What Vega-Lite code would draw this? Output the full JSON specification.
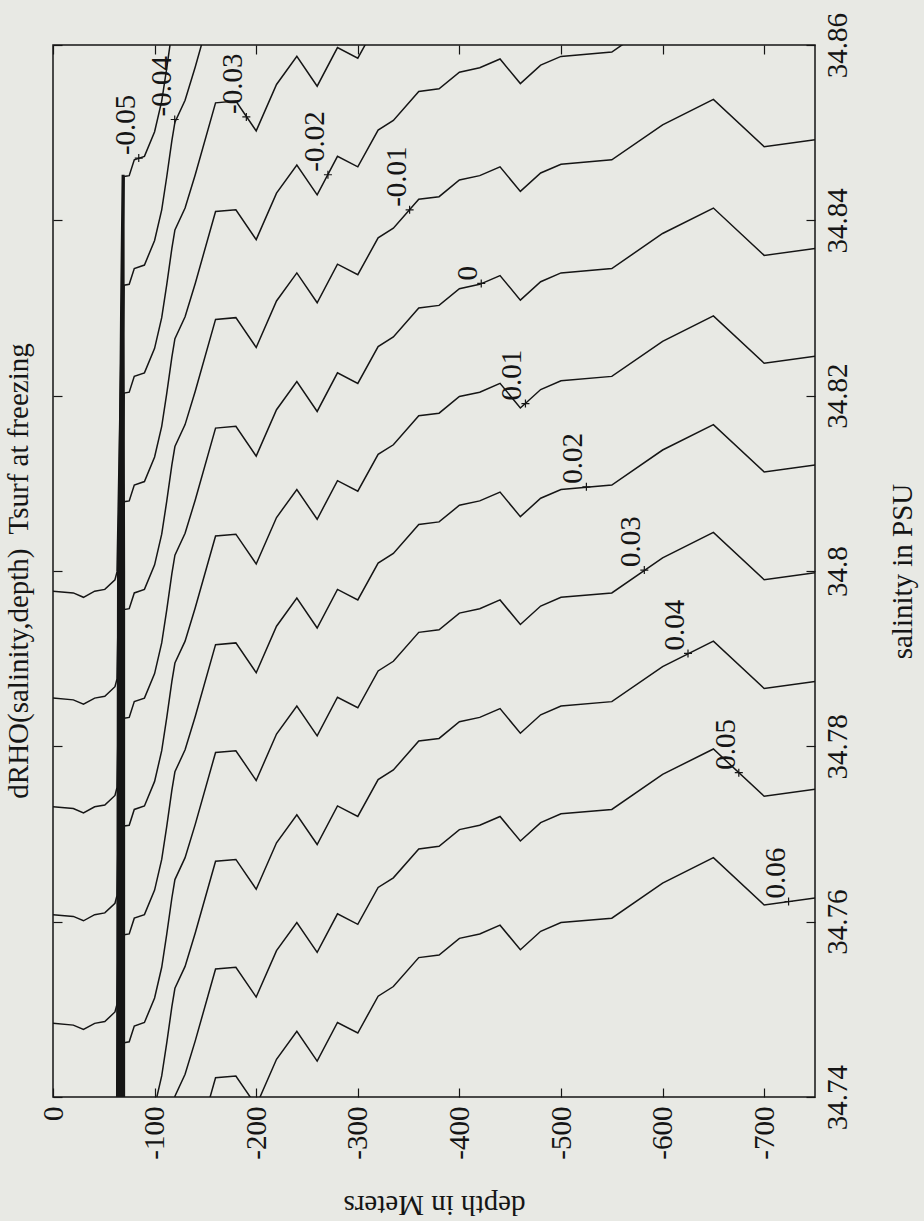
{
  "$schema": "https://vega.github.io/schema/vega-lite/v6.json",
  "width": 762,
  "height": 1052,
  "autosize": "none",
  "padding": {"left": 53, "top": 45, "right": 109, "bottom": 124},
  "background": "#e8e9e4",
  "title": {"text": "dRHO(salinity,depth)\u00a0 Tsurf at freezing", "orient": "left", "anchor": "middle", "offset": 5},
  "config": {
    "view": {"stroke": "#151515", "strokeWidth": 1.5},
    "font": "Liberation Serif",
    "axis": {"domain": false, "grid": false, "tickColor": "#151515", "tickSize": -9, "tickWidth": 1.2, "labelFont": "Liberation Serif", "labelFontSize": 29, "labelColor": "#151515", "titleFont": "Liberation Serif", "titleFontSize": 29, "titleFontWeight": "normal", "titleColor": "#151515"},
    "title": {"font": "Liberation Serif", "fontSize": 29, "fontWeight": "normal", "color": "#151515"}
  },
  "datasets": {
    "contours": [
      {"L":"-0.05","d":0,"s":34.7977},{"L":"-0.05","d":-20,"s":34.7975},{"L":"-0.05","d":-30,"s":34.797},{"L":"-0.05","d":-41,"s":34.7977},{"L":"-0.05","d":-51,"s":34.7979},{"L":"-0.05","d":-61,"s":34.799},{"L":"-0.05","d":-63,"s":34.7999},
      {"L":"-0.05","d":-70,"s":34.845},{"L":"-0.05","d":-75,"s":34.8451},{"L":"-0.05","d":-80,"s":34.8469},{"L":"-0.05","d":-90,"s":34.8473},{"L":"-0.05","d":-100,"s":34.8501},{"L":"-0.05","d":-107,"s":34.8536},{"L":"-0.05","d":-112,"s":34.8574},{"L":"-0.05","d":-117,"s":34.8615},

      {"L":"-0.04","d":0,"s":34.7855},{"L":"-0.04","d":-20,"s":34.7853},{"L":"-0.04","d":-30,"s":34.7848},{"L":"-0.04","d":-41,"s":34.7855},{"L":"-0.04","d":-51,"s":34.7857},{"L":"-0.04","d":-61,"s":34.7868},{"L":"-0.04","d":-63,"s":34.7877},
      {"L":"-0.04","d":-70,"s":34.8326},{"L":"-0.04","d":-75,"s":34.8327},{"L":"-0.04","d":-80,"s":34.8345},{"L":"-0.04","d":-90,"s":34.8349},{"L":"-0.04","d":-100,"s":34.8377},{"L":"-0.04","d":-107,"s":34.8412},{"L":"-0.04","d":-112,"s":34.845},{"L":"-0.04","d":-117,"s":34.8491},{"L":"-0.04","d":-120,"s":34.8512},{"L":"-0.04","d":-130,"s":34.8537},{"L":"-0.04","d":-140,"s":34.8575},{"L":"-0.04","d":-160,"s":34.8657},

      {"L":"-0.03","d":0,"s":34.7731},{"L":"-0.03","d":-20,"s":34.7729},{"L":"-0.03","d":-30,"s":34.7724},{"L":"-0.03","d":-41,"s":34.7731},{"L":"-0.03","d":-51,"s":34.7733},{"L":"-0.03","d":-61,"s":34.7744},{"L":"-0.03","d":-63,"s":34.7753},
      {"L":"-0.03","d":-70,"s":34.8203},{"L":"-0.03","d":-75,"s":34.8204},{"L":"-0.03","d":-80,"s":34.8222},{"L":"-0.03","d":-90,"s":34.8226},{"L":"-0.03","d":-100,"s":34.8254},{"L":"-0.03","d":-107,"s":34.8289},{"L":"-0.03","d":-112,"s":34.8327},{"L":"-0.03","d":-117,"s":34.8368},{"L":"-0.03","d":-120,"s":34.8389},{"L":"-0.03","d":-130,"s":34.8414},{"L":"-0.03","d":-140,"s":34.8452},{"L":"-0.03","d":-160,"s":34.8534},{"L":"-0.03","d":-180,"s":34.8536},{"L":"-0.03","d":-200,"s":34.8502},{"L":"-0.03","d":-220,"s":34.8555},{"L":"-0.03","d":-240,"s":34.8587},{"L":"-0.03","d":-260,"s":34.8553},{"L":"-0.03","d":-280,"s":34.8597},{"L":"-0.03","d":-300,"s":34.8585},{"L":"-0.03","d":-320,"s":34.8627},

      {"L":"-0.02","d":0,"s":34.7608},{"L":"-0.02","d":-20,"s":34.7606},{"L":"-0.02","d":-30,"s":34.7601},{"L":"-0.02","d":-41,"s":34.7608},{"L":"-0.02","d":-51,"s":34.761},{"L":"-0.02","d":-61,"s":34.7621},{"L":"-0.02","d":-63,"s":34.763},
      {"L":"-0.02","d":-70,"s":34.8079},{"L":"-0.02","d":-75,"s":34.808},{"L":"-0.02","d":-80,"s":34.8098},{"L":"-0.02","d":-90,"s":34.8102},{"L":"-0.02","d":-100,"s":34.813},{"L":"-0.02","d":-107,"s":34.8165},{"L":"-0.02","d":-112,"s":34.8203},{"L":"-0.02","d":-117,"s":34.8244},{"L":"-0.02","d":-120,"s":34.8265},{"L":"-0.02","d":-130,"s":34.829},{"L":"-0.02","d":-140,"s":34.8328},{"L":"-0.02","d":-160,"s":34.841},{"L":"-0.02","d":-180,"s":34.8412},{"L":"-0.02","d":-200,"s":34.8378},{"L":"-0.02","d":-220,"s":34.8431},{"L":"-0.02","d":-240,"s":34.8463},{"L":"-0.02","d":-260,"s":34.8429},{"L":"-0.02","d":-280,"s":34.8473},{"L":"-0.02","d":-300,"s":34.8461},{"L":"-0.02","d":-320,"s":34.8503},{"L":"-0.02","d":-335,"s":34.8514},{"L":"-0.02","d":-360,"s":34.8547},{"L":"-0.02","d":-380,"s":34.855},{"L":"-0.02","d":-400,"s":34.8569},{"L":"-0.02","d":-420,"s":34.8574},{"L":"-0.02","d":-440,"s":34.8584},{"L":"-0.02","d":-460,"s":34.8556},{"L":"-0.02","d":-480,"s":34.8577},{"L":"-0.02","d":-500,"s":34.8587},{"L":"-0.02","d":-550,"s":34.8592},{"L":"-0.02","d":-600,"s":34.8632},

      {"L":"-0.01","d":0,"s":34.7484},{"L":"-0.01","d":-20,"s":34.7482},{"L":"-0.01","d":-30,"s":34.7477},{"L":"-0.01","d":-41,"s":34.7484},{"L":"-0.01","d":-51,"s":34.7486},{"L":"-0.01","d":-61,"s":34.7497},{"L":"-0.01","d":-63,"s":34.7506},
      {"L":"-0.01","d":-70,"s":34.7956},{"L":"-0.01","d":-75,"s":34.7957},{"L":"-0.01","d":-80,"s":34.7975},{"L":"-0.01","d":-90,"s":34.7979},{"L":"-0.01","d":-100,"s":34.8007},{"L":"-0.01","d":-107,"s":34.8042},{"L":"-0.01","d":-112,"s":34.808},{"L":"-0.01","d":-117,"s":34.8121},{"L":"-0.01","d":-120,"s":34.8142},{"L":"-0.01","d":-130,"s":34.8167},{"L":"-0.01","d":-140,"s":34.8205},{"L":"-0.01","d":-160,"s":34.8287},{"L":"-0.01","d":-180,"s":34.8289},{"L":"-0.01","d":-200,"s":34.8255},{"L":"-0.01","d":-220,"s":34.8308},{"L":"-0.01","d":-240,"s":34.834},{"L":"-0.01","d":-260,"s":34.8306},{"L":"-0.01","d":-280,"s":34.835},{"L":"-0.01","d":-300,"s":34.8338},{"L":"-0.01","d":-320,"s":34.838},{"L":"-0.01","d":-335,"s":34.8391},{"L":"-0.01","d":-360,"s":34.8424},{"L":"-0.01","d":-380,"s":34.8427},{"L":"-0.01","d":-400,"s":34.8446},{"L":"-0.01","d":-420,"s":34.8451},{"L":"-0.01","d":-440,"s":34.8461},{"L":"-0.01","d":-460,"s":34.8433},{"L":"-0.01","d":-480,"s":34.8454},{"L":"-0.01","d":-500,"s":34.8464},{"L":"-0.01","d":-550,"s":34.8469},{"L":"-0.01","d":-600,"s":34.8509},{"L":"-0.01","d":-650,"s":34.8538},{"L":"-0.01","d":-700,"s":34.8484},{"L":"-0.01","d":-750,"s":34.8492},

      {"L":"0","d":-70,"s":34.7832},{"L":"0","d":-75,"s":34.7833},{"L":"0","d":-80,"s":34.7851},{"L":"0","d":-90,"s":34.7855},{"L":"0","d":-100,"s":34.7883},{"L":"0","d":-107,"s":34.7918},{"L":"0","d":-112,"s":34.7956},{"L":"0","d":-117,"s":34.7997},{"L":"0","d":-120,"s":34.8018},{"L":"0","d":-130,"s":34.8043},{"L":"0","d":-140,"s":34.8081},{"L":"0","d":-160,"s":34.8163},{"L":"0","d":-180,"s":34.8165},{"L":"0","d":-200,"s":34.8131},{"L":"0","d":-220,"s":34.8184},{"L":"0","d":-240,"s":34.8216},{"L":"0","d":-260,"s":34.8182},{"L":"0","d":-280,"s":34.8226},{"L":"0","d":-300,"s":34.8214},{"L":"0","d":-320,"s":34.8256},{"L":"0","d":-335,"s":34.8267},{"L":"0","d":-360,"s":34.83},{"L":"0","d":-380,"s":34.8303},{"L":"0","d":-400,"s":34.8322},{"L":"0","d":-420,"s":34.8327},{"L":"0","d":-440,"s":34.8337},{"L":"0","d":-460,"s":34.8309},{"L":"0","d":-480,"s":34.833},{"L":"0","d":-500,"s":34.834},{"L":"0","d":-550,"s":34.8345},{"L":"0","d":-600,"s":34.8385},{"L":"0","d":-650,"s":34.8414},{"L":"0","d":-700,"s":34.836},{"L":"0","d":-750,"s":34.8368},

      {"L":"0.01","d":-70,"s":34.7709},{"L":"0.01","d":-75,"s":34.771},{"L":"0.01","d":-80,"s":34.7728},{"L":"0.01","d":-90,"s":34.7732},{"L":"0.01","d":-100,"s":34.776},{"L":"0.01","d":-107,"s":34.7795},{"L":"0.01","d":-112,"s":34.7833},{"L":"0.01","d":-117,"s":34.7874},{"L":"0.01","d":-120,"s":34.7895},{"L":"0.01","d":-130,"s":34.792},{"L":"0.01","d":-140,"s":34.7958},{"L":"0.01","d":-160,"s":34.804},{"L":"0.01","d":-180,"s":34.8042},{"L":"0.01","d":-200,"s":34.8008},{"L":"0.01","d":-220,"s":34.8061},{"L":"0.01","d":-240,"s":34.8093},{"L":"0.01","d":-260,"s":34.8059},{"L":"0.01","d":-280,"s":34.8103},{"L":"0.01","d":-300,"s":34.8091},{"L":"0.01","d":-320,"s":34.8133},{"L":"0.01","d":-335,"s":34.8144},{"L":"0.01","d":-360,"s":34.8177},{"L":"0.01","d":-380,"s":34.818},{"L":"0.01","d":-400,"s":34.8199},{"L":"0.01","d":-420,"s":34.8204},{"L":"0.01","d":-440,"s":34.8214},{"L":"0.01","d":-460,"s":34.8186},{"L":"0.01","d":-480,"s":34.8207},{"L":"0.01","d":-500,"s":34.8217},{"L":"0.01","d":-550,"s":34.8222},{"L":"0.01","d":-600,"s":34.8262},{"L":"0.01","d":-650,"s":34.8291},{"L":"0.01","d":-700,"s":34.8237},{"L":"0.01","d":-750,"s":34.8245},

      {"L":"0.02","d":-70,"s":34.7585},{"L":"0.02","d":-75,"s":34.7586},{"L":"0.02","d":-80,"s":34.7604},{"L":"0.02","d":-90,"s":34.7608},{"L":"0.02","d":-100,"s":34.7636},{"L":"0.02","d":-107,"s":34.7671},{"L":"0.02","d":-112,"s":34.7709},{"L":"0.02","d":-117,"s":34.775},{"L":"0.02","d":-120,"s":34.7771},{"L":"0.02","d":-130,"s":34.7796},{"L":"0.02","d":-140,"s":34.7834},{"L":"0.02","d":-160,"s":34.7916},{"L":"0.02","d":-180,"s":34.7918},{"L":"0.02","d":-200,"s":34.7884},{"L":"0.02","d":-220,"s":34.7937},{"L":"0.02","d":-240,"s":34.7969},{"L":"0.02","d":-260,"s":34.7935},{"L":"0.02","d":-280,"s":34.7979},{"L":"0.02","d":-300,"s":34.7967},{"L":"0.02","d":-320,"s":34.8009},{"L":"0.02","d":-335,"s":34.802},{"L":"0.02","d":-360,"s":34.8053},{"L":"0.02","d":-380,"s":34.8056},{"L":"0.02","d":-400,"s":34.8075},{"L":"0.02","d":-420,"s":34.808},{"L":"0.02","d":-440,"s":34.809},{"L":"0.02","d":-460,"s":34.8062},{"L":"0.02","d":-480,"s":34.8083},{"L":"0.02","d":-500,"s":34.8093},{"L":"0.02","d":-550,"s":34.8098},{"L":"0.02","d":-600,"s":34.8138},{"L":"0.02","d":-650,"s":34.8167},{"L":"0.02","d":-700,"s":34.8113},{"L":"0.02","d":-750,"s":34.8121},

      {"L":"0.03","d":-70,"s":34.7462},{"L":"0.03","d":-75,"s":34.7463},{"L":"0.03","d":-80,"s":34.7481},{"L":"0.03","d":-90,"s":34.7485},{"L":"0.03","d":-100,"s":34.7513},{"L":"0.03","d":-107,"s":34.7548},{"L":"0.03","d":-112,"s":34.7586},{"L":"0.03","d":-117,"s":34.7627},{"L":"0.03","d":-120,"s":34.7648},{"L":"0.03","d":-130,"s":34.7673},{"L":"0.03","d":-140,"s":34.7711},{"L":"0.03","d":-160,"s":34.7793},{"L":"0.03","d":-180,"s":34.7795},{"L":"0.03","d":-200,"s":34.7761},{"L":"0.03","d":-220,"s":34.7814},{"L":"0.03","d":-240,"s":34.7846},{"L":"0.03","d":-260,"s":34.7812},{"L":"0.03","d":-280,"s":34.7856},{"L":"0.03","d":-300,"s":34.7844},{"L":"0.03","d":-320,"s":34.7886},{"L":"0.03","d":-335,"s":34.7897},{"L":"0.03","d":-360,"s":34.793},{"L":"0.03","d":-380,"s":34.7933},{"L":"0.03","d":-400,"s":34.7952},{"L":"0.03","d":-420,"s":34.7957},{"L":"0.03","d":-440,"s":34.7967},{"L":"0.03","d":-460,"s":34.7939},{"L":"0.03","d":-480,"s":34.796},{"L":"0.03","d":-500,"s":34.797},{"L":"0.03","d":-550,"s":34.7975},{"L":"0.03","d":-600,"s":34.8015},{"L":"0.03","d":-650,"s":34.8044},{"L":"0.03","d":-700,"s":34.799},{"L":"0.03","d":-750,"s":34.7998},

      {"L":"0.04","d":-100,"s":34.7389},{"L":"0.04","d":-107,"s":34.7424},{"L":"0.04","d":-112,"s":34.7462},{"L":"0.04","d":-117,"s":34.7503},{"L":"0.04","d":-120,"s":34.7524},{"L":"0.04","d":-130,"s":34.7549},{"L":"0.04","d":-140,"s":34.7587},{"L":"0.04","d":-160,"s":34.7669},{"L":"0.04","d":-180,"s":34.7671},{"L":"0.04","d":-200,"s":34.7637},{"L":"0.04","d":-220,"s":34.769},{"L":"0.04","d":-240,"s":34.7722},{"L":"0.04","d":-260,"s":34.7688},{"L":"0.04","d":-280,"s":34.7732},{"L":"0.04","d":-300,"s":34.772},{"L":"0.04","d":-320,"s":34.7762},{"L":"0.04","d":-335,"s":34.7773},{"L":"0.04","d":-360,"s":34.7806},{"L":"0.04","d":-380,"s":34.7809},{"L":"0.04","d":-400,"s":34.7828},{"L":"0.04","d":-420,"s":34.7833},{"L":"0.04","d":-440,"s":34.7843},{"L":"0.04","d":-460,"s":34.7815},{"L":"0.04","d":-480,"s":34.7836},{"L":"0.04","d":-500,"s":34.7846},{"L":"0.04","d":-550,"s":34.7851},{"L":"0.04","d":-600,"s":34.7891},{"L":"0.04","d":-650,"s":34.792},{"L":"0.04","d":-700,"s":34.7866},{"L":"0.04","d":-750,"s":34.7874},

      {"L":"0.05","d":-117,"s":34.738},{"L":"0.05","d":-120,"s":34.7401},{"L":"0.05","d":-130,"s":34.7426},{"L":"0.05","d":-140,"s":34.7464},{"L":"0.05","d":-160,"s":34.7546},{"L":"0.05","d":-180,"s":34.7548},{"L":"0.05","d":-200,"s":34.7514},{"L":"0.05","d":-220,"s":34.7567},{"L":"0.05","d":-240,"s":34.7599},{"L":"0.05","d":-260,"s":34.7565},{"L":"0.05","d":-280,"s":34.7609},{"L":"0.05","d":-300,"s":34.7597},{"L":"0.05","d":-320,"s":34.7639},{"L":"0.05","d":-335,"s":34.765},{"L":"0.05","d":-360,"s":34.7683},{"L":"0.05","d":-380,"s":34.7686},{"L":"0.05","d":-400,"s":34.7705},{"L":"0.05","d":-420,"s":34.771},{"L":"0.05","d":-440,"s":34.772},{"L":"0.05","d":-460,"s":34.7692},{"L":"0.05","d":-480,"s":34.7713},{"L":"0.05","d":-500,"s":34.7723},{"L":"0.05","d":-550,"s":34.7728},{"L":"0.05","d":-600,"s":34.7768},{"L":"0.05","d":-650,"s":34.7797},{"L":"0.05","d":-700,"s":34.7743},{"L":"0.05","d":-750,"s":34.7751},

      {"L":"0.06","d":-140,"s":34.734},{"L":"0.06","d":-160,"s":34.7422},{"L":"0.06","d":-180,"s":34.7424},{"L":"0.06","d":-200,"s":34.739},{"L":"0.06","d":-220,"s":34.7443},{"L":"0.06","d":-240,"s":34.7475},{"L":"0.06","d":-260,"s":34.7441},{"L":"0.06","d":-280,"s":34.7485},{"L":"0.06","d":-300,"s":34.7473},{"L":"0.06","d":-320,"s":34.7515},{"L":"0.06","d":-335,"s":34.7526},{"L":"0.06","d":-360,"s":34.7559},{"L":"0.06","d":-380,"s":34.7562},{"L":"0.06","d":-400,"s":34.7581},{"L":"0.06","d":-420,"s":34.7586},{"L":"0.06","d":-440,"s":34.7596},{"L":"0.06","d":-460,"s":34.7568},{"L":"0.06","d":-480,"s":34.7589},{"L":"0.06","d":-500,"s":34.7599},{"L":"0.06","d":-550,"s":34.7604},{"L":"0.06","d":-600,"s":34.7644},{"L":"0.06","d":-650,"s":34.7673},{"L":"0.06","d":-700,"s":34.7619},{"L":"0.06","d":-750,"s":34.7627}
    ],
    "band": [
      {"s": 34.8452, "d1": -67.5, "d2": -70.5},
      {"s": 34.83, "d1": -66, "d2": -70.5},
      {"s": 34.81, "d1": -64.5, "d2": -70.8},
      {"s": 34.8, "d1": -63, "d2": -71},
      {"s": 34.74, "d1": -62, "d2": -71}
    ],
    "labels": [
      {"t": "-0.05", "d": -84.4, "s": 34.8471},
      {"t": "-0.04", "d": -119.8, "s": 34.8515},
      {"t": "-0.03", "d": -190.3, "s": 34.8518},
      {"t": "-0.02", "d": -270.6, "s": 34.8452},
      {"t": "-0.01", "d": -351, "s": 34.8412},
      {"t": "0", "d": -421.5, "s": 34.8328},
      {"t": "0.01", "d": -465, "s": 34.8191},
      {"t": "0.02", "d": -525, "s": 34.8096},
      {"t": "0.03", "d": -582, "s": 34.8001},
      {"t": "0.04", "d": -625, "s": 34.7906},
      {"t": "0.05", "d": -675, "s": 34.777},
      {"t": "0.06", "d": -724, "s": 34.7623}
    ]
  },
  "layer": [
    {
      "data": {"name": "contours"},
      "mark": {"type": "line", "clip": true, "color": "#151515", "strokeWidth": 1.5},
      "encoding": {
        "x": {"field": "d", "type": "quantitative",
          "scale": {"domain": [-750, 0], "reverse": true, "nice": false, "zero": false},
          "axis": {"orient": "bottom", "values": [0, -100, -200, -300, -400, -500, -600, -700], "labelExpr": "'' + datum.value", "labelAngle": 270, "labelAlign": "right", "labelBaseline": "middle", "labelPadding": 18, "labelFlush": false, "labelOverlap": false, "title": "depth in Meters", "titleAngle": 180, "titleBaseline": "bottom", "titlePadding": 30}},
        "y": {"field": "s", "type": "quantitative",
          "scale": {"domain": [34.74, 34.86], "nice": false, "zero": false},
          "axis": {"orient": "right", "values": [34.74, 34.76, 34.78, 34.8, 34.82, 34.84, 34.86], "labelExpr": "'' + datum.value", "labelAngle": 270, "labelAlign": "center", "labelBaseline": "top", "labelPadding": 17, "labelFlush": false, "labelOverlap": false, "title": "salinity in PSU", "titleAngle": 270, "titleBaseline": "top", "titlePadding": 36}},
        "detail": {"field": "L", "type": "nominal"}
      }
    },
    {
      "data": {"name": "band"},
      "mark": {"type": "area", "orient": "horizontal", "color": "#151515", "clip": true},
      "encoding": {
        "y": {"field": "s", "type": "quantitative",
          "scale": {"domain": [34.74, 34.86], "nice": false, "zero": false},
          "axis": {"orient": "left", "values": [34.74, 34.76, 34.78, 34.8, 34.82, 34.84, 34.86], "labels": false, "title": null}},
        "x": {"field": "d1", "type": "quantitative",
          "scale": {"domain": [-750, 0], "reverse": true, "nice": false, "zero": false},
          "axis": {"orient": "top", "values": [0, -100, -200, -300, -400, -500, -600, -700], "labels": false, "title": null}},
        "x2": {"field": "d2"}
      }
    },
    {
      "data": {"name": "labels"},
      "mark": {"type": "point", "shape": "M-1,0L1,0M0,-1L0,1", "filled": false, "size": 64, "strokeWidth": 1.2, "color": "#151515", "opacity": 1},
      "encoding": {
        "x": {"field": "d", "type": "quantitative", "scale": {"domain": [-750, 0], "reverse": true, "nice": false, "zero": false}, "axis": null},
        "y": {"field": "s", "type": "quantitative", "scale": {"domain": [34.74, 34.86], "nice": false, "zero": false}, "axis": null}
      }
    },
    {
      "data": {"name": "labels"},
      "mark": {"type": "text", "angle": 270, "align": "left", "baseline": "alphabetic", "dx": 3, "dy": -4, "fontSize": 29, "font": "Liberation Serif", "color": "#151515"},
      "encoding": {
        "x": {"field": "d", "type": "quantitative", "scale": {"domain": [-750, 0], "reverse": true, "nice": false, "zero": false}, "axis": null},
        "y": {"field": "s", "type": "quantitative", "scale": {"domain": [34.74, 34.86], "nice": false, "zero": false}, "axis": null},
        "text": {"field": "t", "type": "nominal"}
      }
    }
  ],
  "resolve": {"axis": {"x": "independent", "y": "independent"}}
}
